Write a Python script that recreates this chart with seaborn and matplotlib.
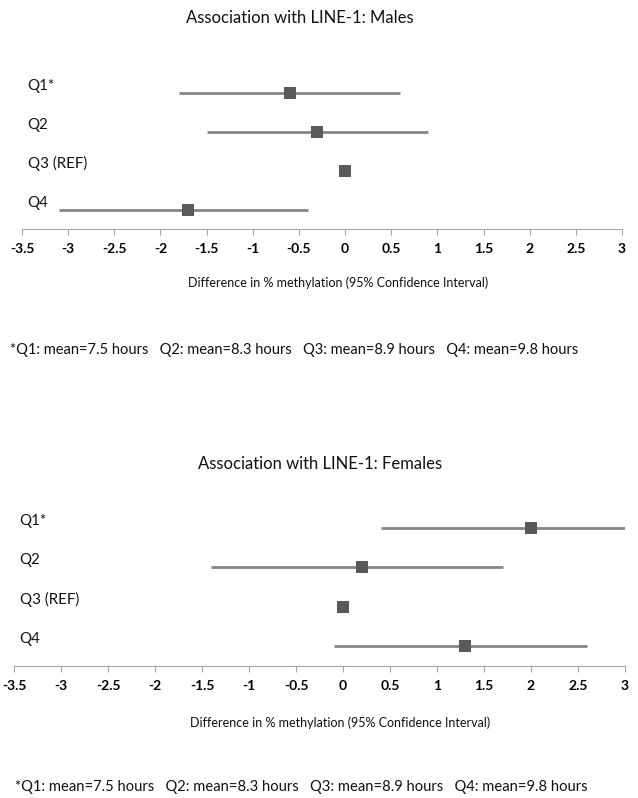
import matplotlib
matplotlib.use('Agg')
import matplotlib.pyplot as plt
import seaborn as sns
import pandas as pd

# quartiles of sleep duration
groups = ['Q1*', 'Q2', 'Q3 (REF)', 'Q4']

# males: estimate and 95% CI
male_est = [-0.6, -0.3, 0.0, -1.7]
male_lo = [-1.8, -1.5, 0.0, -3.1]
male_hi = [0.6, 0.9, 0.0, -0.4]

# females: estimate and 95% CI
female_est = [2.0, 0.2, 0.0, 1.3]
female_lo = [0.4, -1.4, 0.0, -0.1]
female_hi = [3.0, 1.7, 0.0, 2.6]

xticks = [-3.5, -3, -2.5, -2, -1.5, -1, -0.5, 0, 0.5, 1, 1.5, 2, 2.5, 3]
xlabel = 'Difference in % methylation (95% Confidence Interval)'
footnote = '*Q1: mean=7.5 hours   Q2: mean=8.3 hours   Q3: mean=8.9 hours   Q4: mean=9.8 hours'

sns.set_style('white')
plt.rcParams['font.family'] = ['Lato', 'DejaVu Sans']
plt.rcParams['axes.unicode_minus'] = False

W, H = 638, 798
fig = plt.figure(figsize=(W / 100, H / 100), dpi=100)


def px_axes(left, top, right, bottom):
    return fig.add_axes([left / W, 1 - bottom / H, (right - left) / W, (bottom - top) / H])


# create one forest panel
def forest(ax, est, lo, hi):
    df = pd.DataFrame({'group': groups, 'pos': range(len(groups)),
                       'est': est, 'lo': lo, 'hi': hi})
    ax.hlines(df['pos'], df['lo'], df['hi'], color='#868686', lw=2.0, zorder=2)
    sns.scatterplot(data=df, x='est', y='pos', marker='s', s=80, color='#595959',
                    linewidth=0, ax=ax, zorder=3, legend=False)
    for p, g in zip(df['pos'], df['group']):
        ax.text(-3.44, p - 0.18, g, fontsize=10.8, color='#111111', va='center', ha='left')
    ax.set_xlim(-3.5, 3)
    ax.set_ylim(3.5, -0.5)
    ax.set_xticks(xticks)
    ax.set_xticklabels(['%g' % t for t in xticks], fontsize=10, fontweight='bold', color='black')
    ax.set_yticks([])
    ax.set_xlabel('')
    ax.set_ylabel('')
    for s in ['top', 'left', 'right']:
        ax.spines[s].set_visible(False)
    ax.spines['bottom'].set_color('#a6a6a6')
    ax.tick_params(axis='x', direction='out', length=4, width=0.8, color='#a6a6a6',
                   pad=6, bottom=True)
    ax.patch.set_alpha(0)


ax1 = px_axes(22, 74, 622, 229)
forest(ax1, male_est, male_lo, male_hi)
ax2 = px_axes(14, 508, 625, 666)
forest(ax2, female_est, female_lo, female_hi)

fig.text(300 / W, 1 - 18 / H, 'Association with LINE-1: Males', ha='center', va='center',
         fontsize=12, color='#111111')
fig.text(338 / W, 1 - 283 / H, xlabel, ha='center', va='center', fontsize=9, color='#111111')
fig.text(10 / W, 1 - 350 / H, footnote, ha='left', va='center', fontsize=10.5, color='#111111')

fig.text(320 / W, 1 - 464 / H, 'Association with LINE-1: Females', ha='center', va='center',
         fontsize=12, color='#111111')
fig.text(340 / W, 1 - 723 / H, xlabel, ha='center', va='center', fontsize=9, color='#111111')
fig.text(15 / W, 1 - 787 / H, footnote, ha='left', va='center', fontsize=10.6, color='#111111')

fig.savefig('out.png', dpi=100)
